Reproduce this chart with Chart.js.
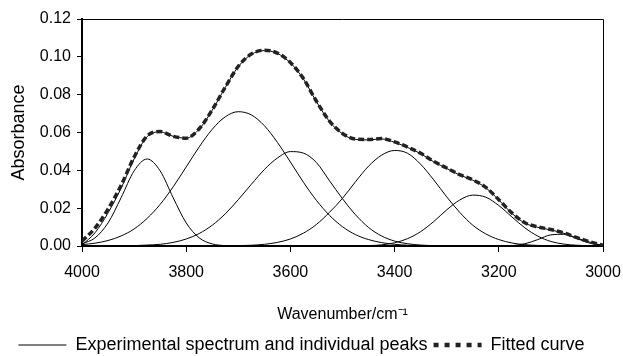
<!DOCTYPE html>
<html>
<head>
<meta charset="utf-8">
<script src="https://cdn.jsdelivr.net/npm/chart.js@4"></script>
<style>
  html, body { margin: 0; padding: 0; background: #fff; }
  #wrap { width: 623px; height: 356px; }
</style>
</head>
<body>
<div id="wrap"><canvas id="spectrumChart" width="623" height="356"></canvas></div>
<script>
// Wavenumber grid (cm-1), high to low
const wavenumbers = [4000, 3975, 3950, 3925, 3900, 3875, 3850, 3825, 3800, 3775,
  3750, 3725, 3700, 3675, 3650, 3625, 3600, 3575, 3550, 3525,
  3500, 3475, 3450, 3425, 3400, 3375, 3350, 3325, 3300, 3275,
  3250, 3225, 3200, 3175, 3150, 3125, 3100, 3075, 3050, 3025, 3000];

// Measured spectrum
const experimental = [0.0005, 0.0070, 0.0175, 0.0305, 0.0460, 0.0578, 0.0603, 0.0580, 0.0570, 0.0618,
  0.0718, 0.0838, 0.0948, 0.1013, 0.1033, 0.1018, 0.0968, 0.0883, 0.0763, 0.0658,
  0.0593, 0.0563, 0.0561, 0.0566, 0.0548, 0.0521, 0.0488, 0.0445, 0.0410, 0.0375,
  0.0348, 0.0308, 0.0243, 0.0173, 0.0121, 0.0099, 0.0085, 0.0067, 0.0042, 0.0020, 0.0002];

// Sum of fitted peaks
const fitted = [0.0025, 0.0095, 0.0195, 0.0320, 0.0470, 0.0582, 0.0605, 0.0580, 0.0570, 0.0620,
  0.0720, 0.0840, 0.0950, 0.1015, 0.1035, 0.1020, 0.0970, 0.0885, 0.0765, 0.0660,
  0.0595, 0.0565, 0.0563, 0.0568, 0.0550, 0.0523, 0.0490, 0.0447, 0.0412, 0.0377,
  0.0350, 0.0310, 0.0245, 0.0175, 0.0123, 0.0101, 0.0087, 0.0069, 0.0044, 0.0022, 0.0003];

// Individual peaks
const peak1 = [0.0011, 0.0043, 0.0122, 0.0255, 0.0397, 0.0460, 0.0397, 0.0255, 0.0122, 0.0043,
  0.0011, 0.0002, 0, 0, 0, 0, 0, 0, 0, 0,
  0, 0, 0, 0, 0, 0, 0, 0, 0, 0,
  0, 0, 0, 0, 0, 0, 0, 0, 0, 0, 0];
const peak2 = [0.0007, 0.0015, 0.0029, 0.0053, 0.0090, 0.0146, 0.0220, 0.0313, 0.0418, 0.0524,
  0.0617, 0.0683, 0.0710, 0.0693, 0.0636, 0.0548, 0.0444, 0.0337, 0.0241, 0.0162,
  0.0102, 0.0060, 0.0034, 0.0018, 0.0009, 0.0004, 0.0002, 0, 0, 0,
  0, 0, 0, 0, 0, 0, 0, 0, 0, 0, 0];
const peak3 = [0, 0, 0.0001, 0.0001, 0.0002, 0.0005, 0.0009, 0.0019, 0.0037, 0.0066,
  0.0110, 0.0170, 0.0245, 0.0326, 0.0404, 0.0465, 0.0499, 0.0491, 0.0441, 0.0345,
  0.0250, 0.0165, 0.0098, 0.0053, 0.0026, 0.0012, 0.0005, 0.0002, 0, 0,
  0, 0, 0, 0, 0, 0, 0, 0, 0, 0, 0];
const peak4 = [0, 0, 0, 0, 0, 0, 0, 0, 0, 0,
  0, 0, 0.0002, 0.0004, 0.0009, 0.0019, 0.0037, 0.0068, 0.0114, 0.0178,
  0.0252, 0.0340, 0.0422, 0.0480, 0.0505, 0.0490, 0.0432, 0.0350, 0.0260, 0.0178,
  0.0110, 0.0064, 0.0034, 0.0016, 0.0007, 0.0003, 0.0001, 0, 0, 0, 0];
const peak5 = [0, 0, 0, 0, 0, 0, 0, 0, 0, 0,
  0, 0, 0, 0, 0, 0, 0, 0, 0, 0,
  0, 0, 0.0002, 0.0006, 0.0017, 0.0039, 0.0076, 0.0129, 0.0191, 0.0243,
  0.0269, 0.0258, 0.0214, 0.0154, 0.0096, 0.0052, 0.0024, 0.0010, 0.0004, 0.0001, 0];
const peak6 = [0, 0, 0, 0, 0, 0, 0, 0, 0, 0,
  0, 0, 0, 0, 0, 0, 0, 0, 0, 0,
  0, 0, 0, 0, 0, 0, 0, 0, 0, 0,
  0, 0, 0, 0.0002, 0.0012, 0.0034, 0.0059, 0.0062, 0.0039, 0.0015, 0.0003];

const peaks = [peak1, peak2, peak3, peak4, peak5, peak6];

const FONT = '"Liberation Sans", Arial, sans-serif';

function toPoints(values) {
  return wavenumbers.map((x, i) => ({ x: x, y: values[i] }));
}

// Thin frame on top and right of the plot area
const framePlugin = {
  id: 'frame',
  afterDraw(chart) {
    const a = chart.chartArea;
    const ctx = chart.ctx;
    ctx.save();
    ctx.strokeStyle = '#000';
    ctx.lineWidth = 1;
    ctx.beginPath();
    ctx.moveTo(a.left, a.top + 0.5);
    ctx.lineTo(a.right + 0.5, a.top + 0.5);
    ctx.lineTo(a.right + 0.5, a.bottom);
    ctx.stroke();
    ctx.restore();
  }
};

const datasets = [
  {
    label: 'Experimental spectrum and individual peaks',
    data: toPoints(experimental),
    borderColor: '#000',
    borderWidth: 1,
    order: 1
  },
  {
    label: 'Fitted curve',
    data: toPoints(fitted),
    borderColor: '#222',
    borderWidth: 3.5,
    borderDash: [6, 3],
    order: 0
  }
];

peaks.forEach(function(p, i) {
  datasets.push({
    label: 'Peak ' + (i + 1),
    data: toPoints(p),
    borderColor: '#000',
    borderWidth: 1,
    order: 2
  });
});

const ctx = document.getElementById('spectrumChart').getContext('2d');
const chart = new Chart(ctx, {
  type: 'line',
  data: { datasets: datasets },
  plugins: [framePlugin],
  options: {
    responsive: false,
    animation: false,
    devicePixelRatio: 1,
    layout: { padding: { top: 19, right: 20, left: 0, bottom: -8 } },
    elements: {
      point: { radius: 0 },
      line: { cubicInterpolationMode: 'monotone', fill: false }
    },
    scales: {
      x: {
        type: 'linear',
        reverse: true,
        min: 3000,
        max: 4000,
        afterFit: function(scale) {
          scale.height = 84;
          scale.paddingLeft = 0;
          scale.paddingRight = 0;
        },
        ticks: {
          stepSize: 200,
          color: '#000',
          padding: 11,
          font: { family: FONT, size: 16 },
          maxRotation: 0,
          callback: function(v) { return String(v); }
        },
        grid: { drawOnChartArea: false, tickLength: 6, color: '#000' },
        border: { color: '#000', width: 2 },
        title: {
          display: true,
          text: 'Wavenumber/cm⁻¹',
          color: '#000',
          font: { family: FONT, size: 16 },
          padding: { top: 0, bottom: 6 }
        }
      },
      y: {
        min: 0,
        max: 0.12,
        afterFit: function(scale) { scale.width = 82; },
        ticks: {
          stepSize: 0.02,
          color: '#000',
          padding: 6,
          font: { family: FONT, size: 16 },
          callback: function(v) { return v.toFixed(2); }
        },
        grid: { drawOnChartArea: false, tickLength: 5, color: '#000' },
        border: { color: '#000', width: 2 },
        title: {
          display: true,
          text: 'Absorbance',
          color: '#000',
          font: { family: FONT, size: 18 },
          padding: { top: 8, bottom: 0 }
        }
      }
    },
    plugins: {
      tooltip: { enabled: false },
      legend: {
        position: 'bottom',
        labels: {
          color: '#000',
          font: { family: FONT, size: 18 },
          usePointStyle: true,
          pointStyle: 'line',
          pointStyleWidth: 48,
          padding: 6,
          filter: function(item) { return item.datasetIndex < 2; },
          sort: function(a, b) { return a.datasetIndex - b.datasetIndex; },
          generateLabels: function(chart) {
            const items = Chart.defaults.plugins.legend.labels.generateLabels(chart);
            items.forEach(function(item) {
              if (item.datasetIndex === 1) {
                item.lineDash = [5, 6];
                item.lineWidth = 4.5;
              }
            });
            return items;
          }
        }
      }
    }
  }
});
</script>
</body>
</html>
